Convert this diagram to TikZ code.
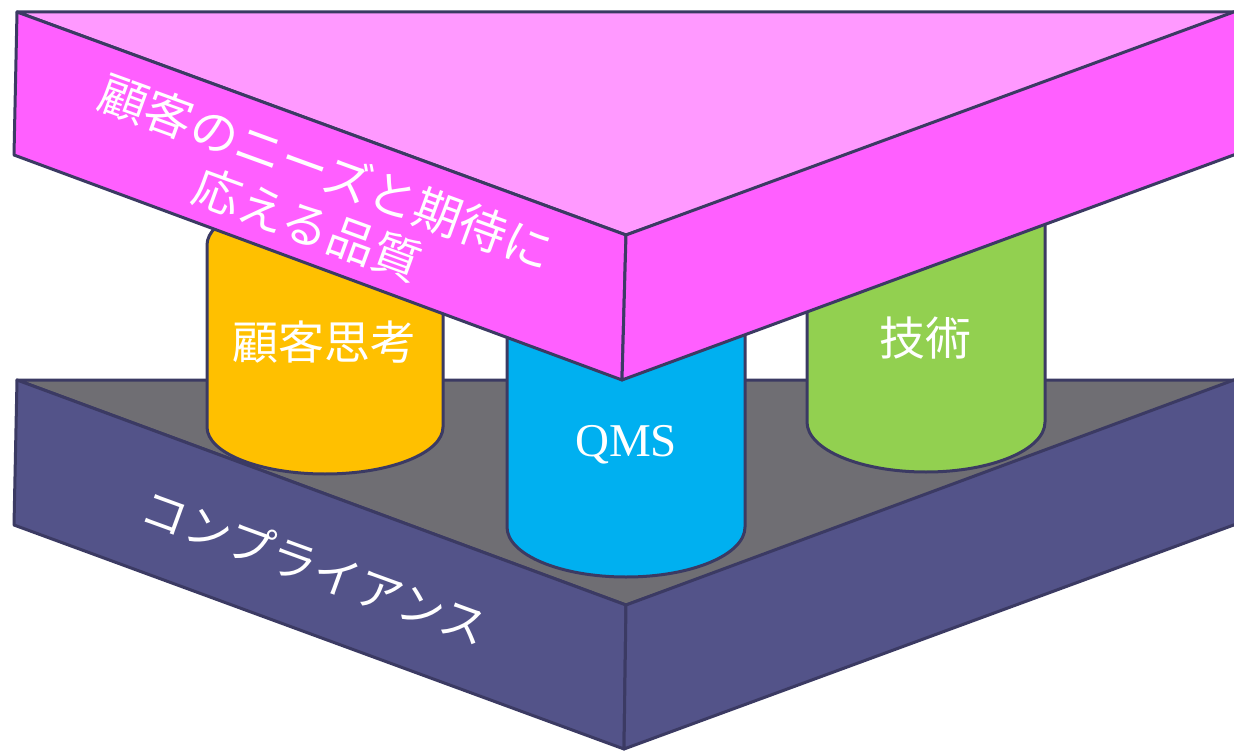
\documentclass[tikz,border=0pt]{standalone}
\usepackage{fontspec}
\setmainfont{Liberation Serif}
\newfontfamily\cjk{Noto Sans CJK JP}
\definecolor{pinktop}{HTML}{FF99FF}
\definecolor{pinkfront}{HTML}{FF5FFF}
\definecolor{graytop}{HTML}{6F6E73}
\definecolor{navyfront}{HTML}{535389}
\definecolor{edge}{HTML}{3B3A63}
\definecolor{corange}{HTML}{FFC000}
\definecolor{cblue}{HTML}{00B0F0}
\definecolor{cgreen}{HTML}{92D050}
\tikzset{
  face/.style={draw=edge, line width=3pt, line join=round},
  cyl/.style={draw=edge, line width=3pt, line join=round},
  lbl/.style={text=white, inner sep=0pt, font=\cjk\fontsize{46}{54}\selectfont},
}
\begin{document}
\begin{tikzpicture}[x=1pt,y=-1pt]
\useasboundingbox (0,0) rectangle (1234,751);
\clip (0,0) rectangle (1234,751);
% bottom slab
\fill[white] (0,0) rectangle (1234,751);
\draw[face, fill=graytop] (17,380) -- (1250,380) -- (626,605) -- cycle;
\draw[face, fill=navyfront] (17,380) -- (626,605) -- (624,749) -- (14,525) -- cycle;
\draw[face, fill=navyfront] (626,605) -- (1250,374) -- (1250,519) -- (624,749) -- cycle;
% cylinders
\draw[cyl, fill=corange] (207,245) -- (207,427) arc[start angle=180, end angle=0, x radius=118, y radius=47] -- (443,245) arc[start angle=0, end angle=-180, x radius=118, y radius=47] -- cycle;
\draw[cyl, fill=cgreen] (807,220) -- (807,422) arc[start angle=180, end angle=0, x radius=119, y radius=50] -- (1045,220) arc[start angle=0, end angle=-180, x radius=119, y radius=50] -- cycle;
\draw[cyl, fill=cblue] (507,330) -- (507,527) arc[start angle=180, end angle=0, x radius=119, y radius=50] -- (745,330) arc[start angle=0, end angle=-180, x radius=119, y radius=50] -- cycle;
\node[lbl] (kokyaku) at (324,342) {顧客思考};
\node[lbl] (gijutsu) at (925,338) {技術};
\node[text=white, inner sep=0pt, font=\fontsize{47}{54}\selectfont] (qms) at (626,445) {QMS};
% top slab
\draw[face, fill=pinktop] (17,12) -- (1250,12) -- (626,235) -- cycle;
\draw[face, fill=pinkfront] (17,12) -- (626,235) -- (622,380) -- (14,155) -- cycle;
\draw[face, fill=pinkfront] (626,235) -- (1250,6) -- (1250,149) -- (622,380) -- cycle;
% texts on slabs
\node[lbl, align=center, rotate=-20, font=\cjk\fontsize{48}{56}\selectfont] (quality) at (317,198) {顧客のニーズと期待に\\応える品質};
\node[lbl, rotate=-20, font=\cjk\fontsize{46}{54}\selectfont] (compliance) at (315,567) {コンプライアンス};
\end{tikzpicture}
\end{document}
